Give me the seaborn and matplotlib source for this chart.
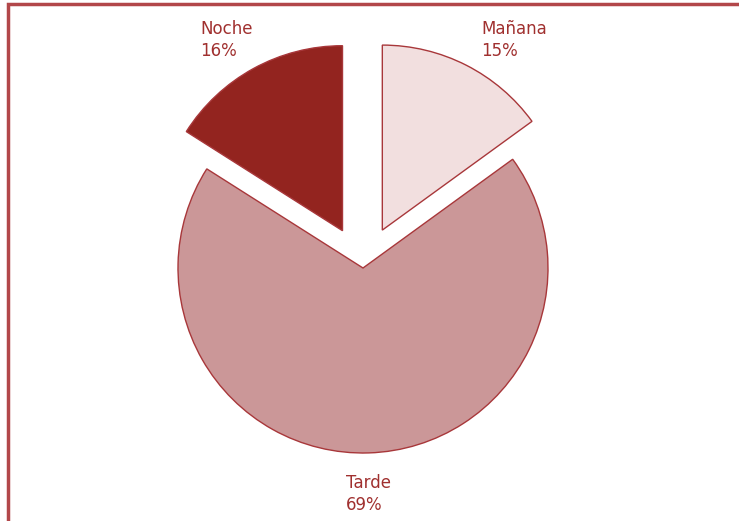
import matplotlib
matplotlib.use("Agg")
import matplotlib.pyplot as plt
from matplotlib.patches import Rectangle
import seaborn as sns

sns.set_theme(style="white")
plt.rcParams["font.family"] = ["Liberation Sans Narrow", "DejaVu Sans Condensed", "DejaVu Sans"]

# Reparto por franja horaria
franjas = ["Mañana", "Tarde", "Noche"]
porcentajes = [15, 69, 16]
colores = ["#f2dfdf", "#cb9798", "#93241f"]
separacion = [0.23, 0.0, 0.23]

W, H = 739, 521
fig = plt.figure(figsize=(W / 100, H / 100), dpi=100)
ax = fig.add_axes([0, 0, 1, 1])

ax.pie(
    porcentajes,
    colors=colores,
    explode=separacion,
    startangle=90,
    counterclock=False,
    radius=1.0,
    wedgeprops=dict(edgecolor="#a8373a", linewidth=1.0),
)

# Escala: radio de 185 px, centro en (363, 268) px desde arriba
r = 185.0
cx, cy = 363.0, 268.0
ax.set_xlim(-cx / r, (W - cx) / r)
ax.set_ylim(-(H - cy) / r, cy / r)
ax.set_aspect("auto")
ax.axis("off")

txt_color = "#a0302f"
etiquetas = {
    "Noche": (200, 20),
    "Mañana": (481, 20),
    "Tarde": (346, 474),
}
for nombre, valor in zip(franjas, porcentajes):
    x, y = etiquetas[nombre]
    fig.text(x / W, 1 - y / H, f"{nombre}\n{valor}%", ha="left", va="top",
             fontsize=12, fontweight="medium", color=txt_color, linespacing=1.3)

# Marco del recuadro
fig.patches.append(Rectangle((7.5 / W, -0.2), 1.2, (H - 3.5) / H + 0.2,
                             transform=fig.transFigure, fill=False,
                             edgecolor="#b2474a", linewidth=2.5))

fig.savefig("out.png", dpi=100)
